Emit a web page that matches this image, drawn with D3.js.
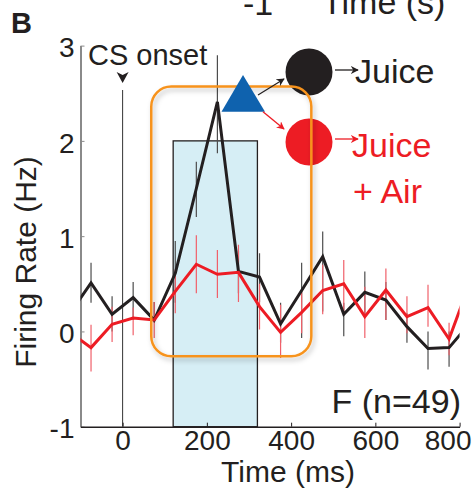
<!DOCTYPE html>
<html>
<head>
<meta charset="utf-8">
<script src="https://cdnjs.cloudflare.com/ajax/libs/d3/7.8.5/d3.min.js"></script>
<style>
  body { margin: 0; background: #fff; }
  text { font-family: "Liberation Sans", Arial, Helvetica, sans-serif; fill: #231f20; }
</style>
</head>
<body>
<div id="graph"></div>
<script>
// bin centres (ms) and mean firing rate (Hz) with error bar ends
var times = [-125, -75, -25, 25, 75, 125, 175, 225, 275, 325, 375, 425, 475, 525, 575, 625, 675, 725, 775, 825];
var juice   = [0.19, 0.51, 0.18, 0.355, 0.12, 0.61, 1.5, 2.41, 0.63, 0.57, 0.08, 0.43, 0.785, 0.18, 0.41, 0.33, 0.05, -0.18, -0.17, 0.09];
var juiceHi = [null, 0.72, 0.37, 0.52, 0.31, 0.95, 1.78, 2.9, 0.85, 0.82, 0.3, 0.72, 1.05, 0.30, 0.63, 0.52, 0.19, 0.0, 0.0, null];
var juiceLo = [null, 0.30, 0.0, 0.12, 0.09, 0.3, 1.2, 1.87, 0.4, 0.31, -0.12, -0.07, 0.21, -0.05, 0.155, 0.12, -0.12, -0.40, -0.37, null];
var air     = [-0.01, -0.17, 0.075, 0.14, 0.12, 0.42, 0.705, 0.60, 0.62, 0.26, -0.01, 0.2, 0.43, 0.5, 0.155, 0.435, 0.155, 0.25, -0.08, 0.52];
var airHi   = [null, 0.07, 0.26, 0.25, 0.31, 0.65, 1.01, 0.855, 0.91, 0.5, 0.28, 0.42, 0.7, 0.75, 0.47, 0.66, 0.37, 0.49, 0.09, null];
var airLo   = [null, -0.42, -0.11, -0.04, -0.07, 0.19, 0.4, 0.35, 0.31, 0.02, -0.28, -0.02, 0.18, 0.19, -0.07, 0.12, -0.02, 0.05, -0.25, null];

var xTicks = [0, 200, 400, 600, 800];
var yTicks = [-1, 0, 1, 2, 3];
var window_ms = [120, 320];      // shaded analysis window
var window_hz = [-1, 2];
var boxTime = [68, 448];          // orange highlight box
var boxRate = [-0.26, 2.57];

var width = 475, height = 493;

var x = d3.scaleLinear().domain([-100, 800]).range([80.5, 459.6]);
var y = d3.scaleLinear().domain([-1, 3]).range([426.7, 45.6]);

var svg = d3.select("#graph").append("svg")
    .attr("width", width).attr("height", height);

var defs = svg.append("defs");
defs.append("clipPath").attr("id", "plotclip")
    .append("rect").attr("x", x(-100)).attr("y", 0)
    .attr("width", x(800) - x(-100)).attr("height", height);

var shadow = defs.append("filter").attr("id", "shadow")
    .attr("x", "-10%").attr("y", "-10%").attr("width", "130%").attr("height", "130%");
shadow.append("feDropShadow").attr("dx", 2).attr("dy", 3)
    .attr("stdDeviation", 2.5).attr("flood-color", "#000").attr("flood-opacity", 0.25);

function marker(id, color) {
    defs.append("marker").attr("id", id)
        .attr("viewBox", "0 0 10 10").attr("refX", 9).attr("refY", 5)
        .attr("markerWidth", 8).attr("markerHeight", 8)
        .attr("markerUnits", "userSpaceOnUse")
        .attr("orient", "auto")
        .append("path").attr("d", "M0,0 L10,5 L0,10 L3,5 Z").attr("fill", color);
}
marker("arrBlack", "#231f20");
marker("arrRed", "#ed1c24");

// fragment of the panel above
svg.append("text").attr("x", 243).attr("y", 15).attr("font-size", "34px").text("-1");
svg.append("text").attr("x", 322).attr("y", 14).attr("font-size", "34px").text("Time (s)");
svg.append("text").attr("x", 11).attr("y", 33).attr("font-size", "29px")
    .attr("font-weight", "bold").text("B");

// shaded window
svg.append("rect")
    .attr("x", x(window_ms[0])).attr("y", y(window_hz[1]))
    .attr("width", x(window_ms[1]) - x(window_ms[0]))
    .attr("height", y(window_hz[0]) - y(window_hz[1]))
    .attr("fill", "#d6eef5").attr("stroke", "#231f20").attr("stroke-width", 1.3);

// CS onset marker
svg.append("line").attr("x1", x(0)).attr("x2", x(0))
    .attr("y1", 90).attr("y2", y(-1))
    .attr("stroke", "#333").attr("stroke-width", 1);
svg.append("path")
    .attr("d", "M" + (x(0) - 6) + ",72 L" + x(0) + ",83 L" + (x(0) + 6) + ",72 L" + x(0) + ",75 Z")
    .attr("fill", "#231f20");
svg.append("text").attr("x", 88).attr("y", 65).attr("font-size", "29px").text("CS onset");

// axes
var fmt = function (d) { return String(d); };
var yAxis = svg.append("g").attr("transform", "translate(" + x(-100) + ",0)")
    .call(d3.axisLeft(y).tickValues(yTicks).tickFormat(fmt).tickSize(-4).tickSizeOuter(0).tickPadding(6));
yAxis.select(".domain").attr("stroke", "#8a8a8a").attr("stroke-width", 2);
yAxis.selectAll(".tick line").attr("stroke", "#8a8a8a");
yAxis.selectAll(".tick text").attr("font-size", "28px").attr("font-family", null)
    .attr("dy", "0.4em").attr("fill", "#231f20");

var xAxis = svg.append("g").attr("transform", "translate(0," + y(-1) + ")")
    .call(d3.axisBottom(x).tickValues(xTicks).tickFormat(fmt).tickSize(-4).tickSizeOuter(0).tickPadding(3));
xAxis.select(".domain").attr("stroke", "#231f20").attr("stroke-width", 1.5);
xAxis.selectAll(".tick line").attr("stroke", "#231f20");
xAxis.selectAll(".tick text").attr("font-size", "28px").attr("font-family", null).attr("fill", "#231f20")
    .attr("dx", function (d) { return d === 800 ? -12 : 0; });

svg.append("text").attr("x", 288).attr("y", 482).attr("text-anchor", "middle")
    .attr("font-size", "30px").text("Time (ms)");
svg.append("text").attr("transform", "translate(36,262) rotate(-90)")
    .attr("text-anchor", "middle").attr("font-size", "30px").text("Firing Rate (Hz)");

// error bars and lines
var plot = svg.append("g").attr("clip-path", "url(#plotclip)");

function series(vals, lo, hi, barColor) {
    var pts = times.map(function (t, i) { return { t: t, v: vals[i], lo: lo[i], hi: hi[i] }; });
    plot.append("g").selectAll("line")
        .data(pts.filter(function (d) { return d.lo !== null; }))
        .enter().append("line")
        .attr("x1", function (d) { return x(d.t); })
        .attr("x2", function (d) { return x(d.t); })
        .attr("y1", function (d) { return y(d.lo); })
        .attr("y2", function (d) { return y(d.hi); })
        .attr("stroke", barColor).attr("stroke-width", 1.2);
    return pts;
}
var pJuice = series(juice, juiceLo, juiceHi, "#4d4d4d");
var pAir = series(air, airLo, airHi, "#f0606a");

var line = d3.line().x(function (d) { return x(d.t); }).y(function (d) { return y(d.v); });
plot.append("path").datum(pJuice).attr("d", line)
    .attr("fill", "none").attr("stroke", "#231f20").attr("stroke-width", 3);
plot.append("path").datum(pAir).attr("d", line)
    .attr("fill", "none").attr("stroke", "#ed1c24").attr("stroke-width", 3);

// legend icons
svg.append("circle").attr("cx", 309).attr("cy", 72).attr("r", 23.5).attr("fill", "#231f20");
svg.append("circle").attr("cx", 309).attr("cy", 142).attr("r", 23.5).attr("fill", "#ed1c24");

// orange highlight box
svg.append("rect")
    .attr("x", x(boxTime[0])).attr("y", y(boxRate[1]))
    .attr("width", x(boxTime[1]) - x(boxTime[0]))
    .attr("height", y(boxRate[0]) - y(boxRate[1]))
    .attr("rx", 20).attr("ry", 20)
    .attr("fill", "none").attr("stroke", "#f7931e").attr("stroke-width", 2.5)
    .attr("filter", "url(#shadow)");

svg.append("path").attr("d", "M243,75 L221.5,111.7 L265,111.7 Z").attr("fill", "#0f62ae");

svg.append("line").attr("x1", 258).attr("y1", 95).attr("x2", 284).attr("y2", 79)
    .attr("stroke", "#231f20").attr("stroke-width", 1.3).attr("marker-end", "url(#arrBlack)");
svg.append("line").attr("x1", 263).attr("y1", 111.7).attr("x2", 284).attr("y2", 129)
    .attr("stroke", "#ed1c24").attr("stroke-width", 1.3).attr("marker-end", "url(#arrRed)");
svg.append("line").attr("x1", 335).attr("y1", 70).attr("x2", 358).attr("y2", 70)
    .attr("stroke", "#231f20").attr("stroke-width", 1.3).attr("marker-end", "url(#arrBlack)");
svg.append("line").attr("x1", 335).attr("y1", 139).attr("x2", 358).attr("y2", 139)
    .attr("stroke", "#ed1c24").attr("stroke-width", 1.3).attr("marker-end", "url(#arrRed)");

svg.append("text").attr("x", 355).attr("y", 83).attr("font-size", "34px").text("Juice");
svg.append("text").attr("x", 352).attr("y", 157).attr("font-size", "34px")
    .style("fill", "#ed1c24").text("Juice");
svg.append("text").attr("x", 353).attr("y", 203).attr("font-size", "34px")
    .style("fill", "#ed1c24").text("+ Air");

svg.append("text").attr("x", 461).attr("y", 413).attr("text-anchor", "end")
    .attr("font-size", "34px").text("F (n=49)");
</script>
</body>
</html>
